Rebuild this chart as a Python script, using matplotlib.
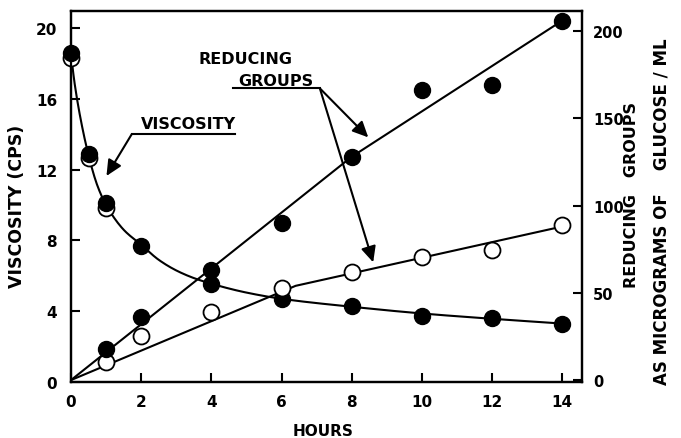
import numpy as np
import matplotlib
matplotlib.use("Agg")
import matplotlib.pyplot as plt
from matplotlib.patches import FancyArrowPatch

plt.rcParams["font.family"] = ["DejaVu Sans"]
plt.rcParams["font.weight"] = "bold"

# ---- measured data ----
hours_visc = [0, 0.5, 1, 2, 4, 6, 8, 10, 12, 14]
visc_filled = [18.6, 12.9, 10.1, 7.7, 5.55, 4.7, 4.3, 3.75, 3.6, 3.3]
hours_visc_open = [0, 0.5, 1]
visc_open = [18.3, 12.65, 9.85]

hours_red = [1, 2, 4, 6, 8, 10, 12, 14]
red_filled = [18, 36, 63, 90, 128, 166, 169, 206]
red_open = [10.5, 25.4, 38.8, 52.6, 61.7, 70.3, 74.5, 88.8]

# drawn trend lines
curve_hours = [0, 0.1, 0.25, 0.5, 0.75, 1, 1.5, 2, 2.5, 3, 3.5, 4, 5, 6, 8, 10, 12, 14]
curve_visc = [18.5, 16.9, 15.1, 12.8, 11.1, 10.0, 8.6, 7.75, 6.9, 6.3, 5.87, 5.55,
              5.05, 4.7, 4.25, 3.87, 3.57, 3.3]
line_filled_hours = [0, 8, 14]
line_filled_vals = [0, 128, 206]
line_open_hours = [0, 6.4, 14]
line_open_vals = [0, 54, 88]

xticks = [0, 2, 4, 6, 8, 10, 12, 14]
yticks_left = [0, 4, 8, 12, 16, 20]
yticks_right = [0, 50, 100, 150, 200]


def pchip(x, y, xn):
    x = np.asarray(x, float)
    y = np.asarray(y, float)
    h = np.diff(x)
    d = np.diff(y) / h
    m = np.zeros_like(y)
    m[0], m[-1] = d[0], d[-1]
    for k in range(1, len(x) - 1):
        if d[k - 1] * d[k] > 0:
            w1 = 2 * h[k] + h[k - 1]
            w2 = h[k] + 2 * h[k - 1]
            m[k] = (w1 + w2) / (w1 / d[k - 1] + w2 / d[k])
    idx = np.clip(np.searchsorted(x, xn) - 1, 0, len(x) - 2)
    t = (xn - x[idx]) / h[idx]
    h00 = 2 * t**3 - 3 * t**2 + 1
    h10 = t**3 - 2 * t**2 + t
    h01 = -2 * t**3 + 3 * t**2
    h11 = t**3 - t**2
    return h00 * y[idx] + h10 * h[idx] * m[idx] + h01 * y[idx + 1] + h11 * h[idx] * m[idx + 1]


fig = plt.figure(figsize=(6.81, 4.39), dpi=100)
ax = fig.add_axes([0.1043, 0.1276, 0.7503, 0.8451])
ax2 = ax.twinx()

lw = 1.5
ms = 11.5

# viscosity curve
xs = np.linspace(curve_hours[0], curve_hours[-1], 400)
ax.plot(xs, pchip(curve_hours, curve_visc, xs), color="black", lw=lw, zorder=2)
ax.plot(hours_visc_open, visc_open, "o", ms=ms, mfc="white", mec="black", mew=1.3,
        zorder=3, clip_on=False)
ax.plot(hours_visc, visc_filled, "o", ms=ms, mfc="black", mec="black", zorder=4,
        clip_on=False)

# reducing groups
ax2.plot(line_filled_hours, line_filled_vals, color="black", lw=lw, zorder=2)
ax2.plot(line_open_hours, line_open_vals, color="black", lw=lw, zorder=2)
ax2.plot(hours_red, red_open, "o", ms=ms, mfc="white", mec="black", mew=1.3, zorder=3,
         clip_on=False)
ax2.plot(hours_red, red_filled, "o", ms=ms, mfc="black", mec="black", zorder=4,
         clip_on=False)

ax.set_xlim(0, 14.56)
ax.set_ylim(0, 20.96)
ax2.set_ylim(-1.1, 211.5)

ax.set_xticks(xticks)
ax.set_yticks(yticks_left)
ax2.set_yticks(yticks_right)

for a in (ax, ax2):
    for s in a.spines.values():
        s.set_linewidth(1.6)
ax.tick_params(axis="both", direction="in", length=6.5, width=1.5, labelsize=11)
ax.tick_params(axis="y", pad=10)
ax.tick_params(axis="x", pad=9)
ax2.tick_params(axis="y", direction="in", length=6.5, width=1.5, labelsize=10.5, pad=8)

fig.text(0.474, 0.018, "HOURS", ha="center", va="center", fontsize=11)
fig.text(0.025, 0.53, "VISCOSITY (CPS)", rotation=90, ha="center", va="center", fontsize=12.5)
fig.text(0.928, 0.555, "REDUCING   GROUPS", rotation=90, ha="center", va="center",
         fontsize=11.5)
fig.text(0.971, 0.517, "AS MICROGRAMS OF    GLUCOSE / ML", rotation=90, ha="center",
         va="center", fontsize=12)

# annotations
ax.text(3.36, 14.2, "VISCOSITY", ha="center", va="bottom", fontsize=11.5)
ax.plot([1.73, 4.67], [14.0, 14.0], color="black", lw=lw)
ax.text(4.98, 18.25, "REDUCING", ha="center", va="center", fontsize=11.5)
ax.text(5.84, 17.02, "GROUPS", ha="center", va="center", fontsize=11.5)
ax.plot([4.62, 7.09], [16.59, 16.59], color="black", lw=lw)


def arrow(p0, p1):
    a = FancyArrowPatch(p0, p1, arrowstyle="-|>,head_length=0.95,head_width=0.45",
                        mutation_scale=10, color="black", lw=lw, shrinkA=0, shrinkB=0)
    ax.add_patch(a)


arrow((1.73, 14.0), (1.01, 11.64))
arrow((7.09, 16.59), (8.47, 13.82))
arrow((7.09, 16.59), (8.61, 6.76))

ax.set_zorder(ax2.get_zorder() - 1)
ax2.patch.set_visible(False)

fig.savefig("out.png", dpi=100)
